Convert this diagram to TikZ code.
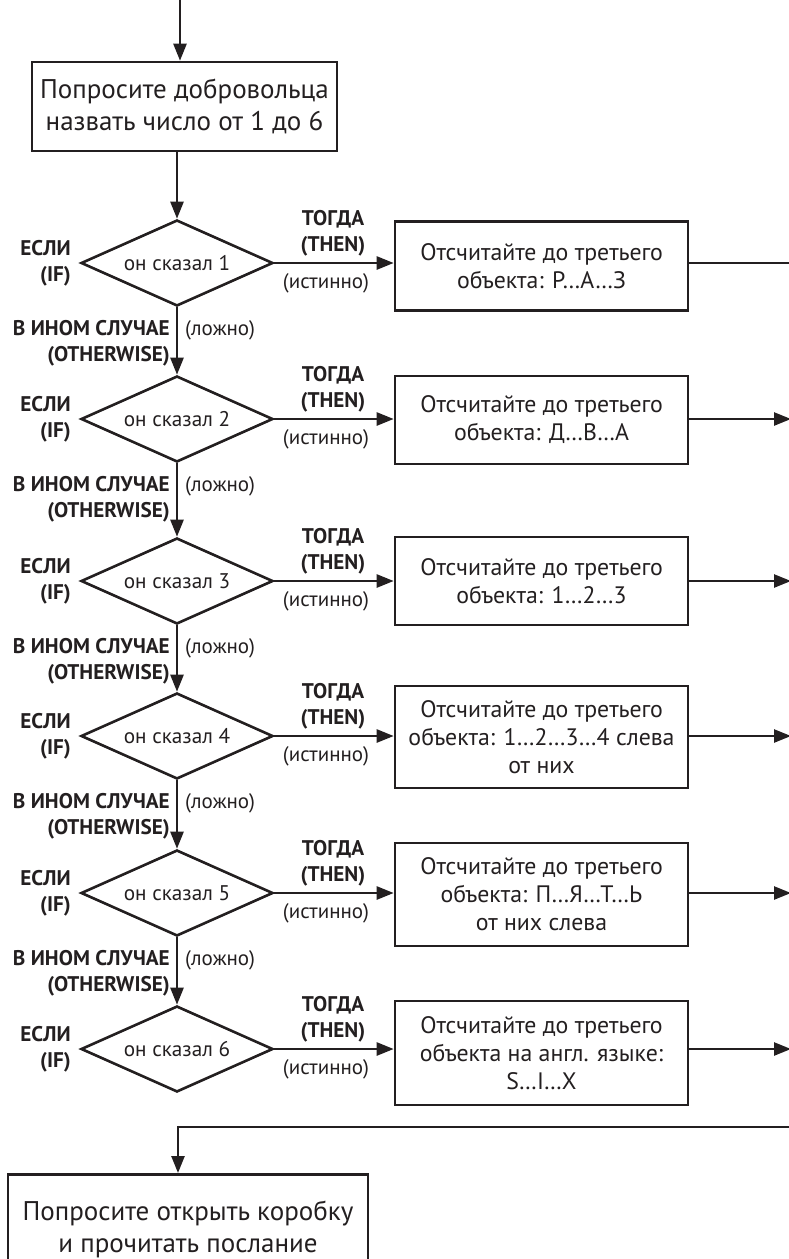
\documentclass[tikz,border=0pt]{standalone}
\usepackage{fontspec}
\setmainfont{PT Sans}
\usetikzlibrary{shapes.geometric,arrows.meta}
\definecolor{ink}{HTML}{231F20}
\begin{document}
\begin{tikzpicture}[x=1pt,y=-1pt,
  every node/.style={text=ink},
  action/.style={draw=ink, line width=2.6pt, rectangle, inner sep=0pt,
    align=center, font=\fontsize{23.8}{28}\selectfont},
  bigaction/.style={action, font=\fontsize{27}{32}\selectfont},
  test/.style={draw=ink, line width=2.6pt, diamond, shape aspect=2.23,
    inner sep=0pt, minimum width=192pt, minimum height=86pt,
    font=\fontsize{21.2}{25}\selectfont},
  keyword/.style={font=\bfseries\fontsize{21.2}{26}\selectfont, inner sep=0pt},
  remark/.style={font=\fontsize{21}{25}\selectfont, inner sep=0pt},
  flow/.style={draw=ink, line width=2.5pt, -{Triangle[length=17pt,width=13pt]}},
  plain/.style={draw=ink, line width=2.5pt},
]
\useasboundingbox (0,0) rectangle (789,1259);
\clip (0,0) rectangle (789,1259);

% entry and first request
\coordinate (entry) at (180,0);
\node[bigaction, minimum width=305pt, minimum height=89pt] (ask) at (184.5,106.5)
  {Попросите добровольца\\назвать число от 1 до 6};
\draw[flow] (entry) -- (entry |- ask.north);

% the six tests with their actions
\foreach \i/\y/\by/\bh/\txt in {
  1/263/266/89/{Отсчитайте до третьего\\объекта: Р…А…З},
  2/419/420/88/{Отсчитайте до третьего\\объекта: Д…В…А},
  3/581/581/88/{Отсчитайте до третьего\\объекта: 1…2…3},
  4/736/737/102/{Отсчитайте до третьего\\объекта: 1…2…3…4 слева\\от них},
  5/893/894.5/103/{Отсчитайте до третьего\\объекта: П…Я…Т…Ь\\от них слева},
  6/1049/1053/104/{Отсчитайте до третьего\\объекта на англ. языке:\\S…I…X}}
{
  \node[test] (d\i) at (177,\y) {он сказал \i};
  \node[action, minimum width=293pt, minimum height=\bh pt] (b\i) at (541.5,\by) {\txt};
  \node[keyword, align=right, anchor=east] (if\i) at (71,\y) {ЕСЛИ\\(IF)};
  \node[keyword, align=center, anchor=south] (then\i) at (333,\y-7) {ТОГДА\\(THEN)};
  \node[remark, anchor=north] (true\i) at (326,\y+10) {(истинно)};
  \coordinate (out\i) at (800,\y);
  \draw[flow] (d\i.east) -- (b\i.west |- d\i.east);
}

% action exits toward the right margin
\draw[plain] (b1.east |- d1.east) -- (out1);
\foreach \i in {2,...,6} {
  \draw[flow] (b\i.east |- d\i.east) -- ([xshift=-9pt]out\i);
}

% otherwise branches
\foreach \i/\j in {1/2,2/3,3/4,4/5,5/6} {
  \draw[flow] (d\i.south) -- (d\j.north);
}
\foreach \i/\y in {1/263,2/419,3/581,4/736,5/893} {
  \node[keyword, align=right, anchor=north east] (other\i) at (170,\y+57)
    {В ИНОМ СЛУЧАЕ\\(OTHERWISE)};
  \node[remark, anchor=west] (false\i) at (185,\y+67) {(ложно)};
}

\draw[flow] (ask.south -| d1.north) -- (d1.north);

% joining line and final step
\node[bigaction, minimum width=360pt, minimum height=110pt, anchor=north] (final) at (188,1173)
  {Попросите открыть коробку\\и прочитать послание};
\coordinate (joinR) at (800,1127);
\coordinate (joinL) at (178,1127);
\draw[plain] (joinR) -- (joinL);
\draw[flow] ([yshift=1.25pt]joinL) -- (joinL |- final.north);
\end{tikzpicture}
\end{document}
